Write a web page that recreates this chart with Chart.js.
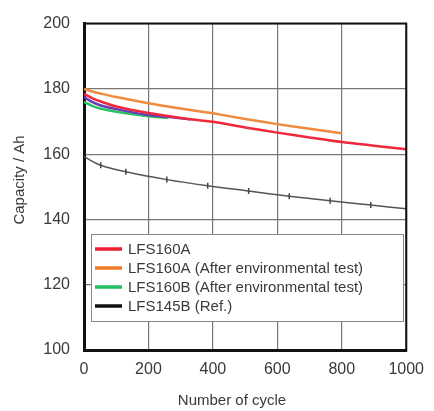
<!DOCTYPE html>
<html>
<head>
<meta charset="utf-8">
<script src="https://cdn.jsdelivr.net/npm/chart.js@4.4.1/dist/chart.umd.min.js"></script>
<style>
  html, body { margin: 0; padding: 0; background: #fff; }
  canvas { display: block; }
</style>
</head>
<body>
<canvas id="chart" width="434" height="411"></canvas>
<script>
// cycle counts and capacities (Ah)
const cycA = [0, 25, 50, 100, 200, 300, 400, 500, 600, 700, 800, 900, 1000];
const capA = [178.5, 177.2, 176.2, 174.6, 172.6, 171.1, 169.9, 168.2, 166.6, 165.1, 163.7, 162.6, 161.5];

const cycAEnv = [0, 25, 50, 100, 200, 300, 400, 500, 600, 700, 800];
const capAEnv = [180, 179.2, 178.6, 177.5, 175.6, 174, 172.5, 170.8, 169.2, 167.8, 166.4];

const cycBEnv = [0, 25, 50, 100, 200, 260];
const capBEnv = [176, 174.8, 174, 173, 171.6, 171.1];

const cycExtra = [0, 25, 50, 100, 200, 300, 330];
const capExtra = [177.5, 176, 175, 173.8, 172, 171, 170.6];

const cycRef = [0, 52, 130, 257, 384, 511, 637, 764, 890, 1000];
const capRef = [159.2, 156.6, 154.6, 152.2, 150.3, 148.7, 147.1, 145.7, 144.4, 143.3];

const seriesNames = ['LFS160A', 'LFS160A (After environmental test)', 'LFS160B (After environmental test)', 'LFS145B (Ref.)'];
const xTicks = [0, 200, 400, 600, 800, 1000];
const yTicks = [100, 120, 140, 160, 180, 200];

const pts = (xs, ys) => xs.map((x, i) => ({ x: x, y: ys[i] }));
const FONT = '"Liberation Sans", Arial, sans-serif';
const TXT = '#3a3a3a';

// frame, axis titles and the in-plot legend
const extras = {
  id: 'extras',
  afterDraw(chart) {
    const ctx = chart.ctx;
    const a = chart.chartArea;
    ctx.save();
    ctx.strokeStyle = '#111';
    ctx.lineWidth = 2;
    ctx.beginPath();
    ctx.moveTo(a.left, a.top);
    ctx.lineTo(a.right, a.top);
    ctx.lineTo(a.right, a.bottom);
    ctx.stroke();

    ctx.fillStyle = TXT;
    ctx.font = '15px ' + FONT;
    ctx.textAlign = 'center';
    ctx.textBaseline = 'middle';
    ctx.fillText('Number of cycle', 232, 401);
    ctx.translate(20, 180);
    ctx.rotate(-Math.PI / 2);
    ctx.fillText('Capacity / Ah', 0, 0);
    ctx.restore();

    // legend
    ctx.save();
    const bx = 91, by = 234, bw = 312, bh = 87;
    ctx.fillStyle = '#fff';
    ctx.fillRect(bx, by, bw, bh);
    ctx.strokeStyle = '#888';
    ctx.lineWidth = 1;
    ctx.strokeRect(bx + 0.5, by + 0.5, bw, bh);
    const rows = [249, 268, 287, 306];
    ctx.font = '15px ' + FONT;
    ctx.textAlign = 'left';
    ctx.textBaseline = 'middle';
    seriesNames.forEach((name, i) => {
      const d = chart.data.datasets.find(ds => ds.label === name);
      ctx.strokeStyle = d.legendColor;
      ctx.lineWidth = 3.5;
      ctx.beginPath();
      ctx.moveTo(95, rows[i]);
      ctx.lineTo(122, rows[i]);
      ctx.stroke();
      ctx.fillStyle = TXT;
      ctx.fillText(name, 128, rows[i] + 1);
    });
    ctx.restore();
  }
};

new Chart(document.getElementById('chart'), {
  type: 'line',
  data: {
    datasets: [
      {
        label: seriesNames[3], data: pts(cycRef, capRef), legendColor: '#111',
        borderColor: '#555', borderWidth: 1.5, pointStyle: 'line', rotation: 90,
        pointRadius: cycRef.map((c, i) => (i === 0 || i === cycRef.length - 1) ? 0 : 3),
        pointBorderColor: '#444', pointBorderWidth: 1.5, tension: 0.3, order: 4
      },
      {
        label: seriesNames[1], data: pts(cycAEnv, capAEnv), legendColor: '#f07a28',
        borderColor: '#f08a3c', borderWidth: 2.5, pointRadius: 0, tension: 0.3, order: 3
      },
      {
        label: seriesNames[2], data: pts(cycBEnv, capBEnv), legendColor: '#22c060',
        borderColor: '#2cc464', borderWidth: 2.5, pointRadius: 0, tension: 0.3, order: 2
      },
      {
        label: 'extra', data: pts(cycExtra, capExtra),
        borderColor: '#6a3cb4', borderWidth: 2.5, pointRadius: 0, tension: 0.3, order: 1
      },
      {
        label: seriesNames[0], data: pts(cycA, capA), legendColor: '#ee1c30',
        borderColor: '#f0283c', borderWidth: 2.5, pointRadius: 0, tension: 0.3, order: 0
      }
    ]
  },
  options: {
    responsive: false,
    animation: false,
    layout: { padding: { top: 15, right: 19, left: 0, bottom: 0 } },
    plugins: { legend: { display: false }, tooltip: { enabled: false } },
    scales: {
      x: {
        type: 'linear', min: 0, max: 1000,
        afterFit: s => { s.height = 61; },
        afterBuildTicks: s => { s.ticks = xTicks.map(v => ({ value: v })); },
        ticks: { color: TXT, font: { family: FONT, size: 16 }, padding: 10, maxRotation: 0, callback: v => String(v) },
        grid: { color: '#777', lineWidth: 1.2, drawTicks: false },
        border: { color: '#111', width: 3 }
      },
      y: {
        min: 100, max: 200,
        afterFit: s => { s.width = 84; },
        afterBuildTicks: s => { s.ticks = yTicks.map(v => ({ value: v })); },
        ticks: { color: TXT, font: { family: FONT, size: 16 }, padding: 14, callback: v => String(v) },
        grid: { color: '#777', lineWidth: 1.2, drawTicks: false },
        border: { color: '#111', width: 3 }
      }
    }
  },
  plugins: [extras]
});
</script>
</body>
</html>
